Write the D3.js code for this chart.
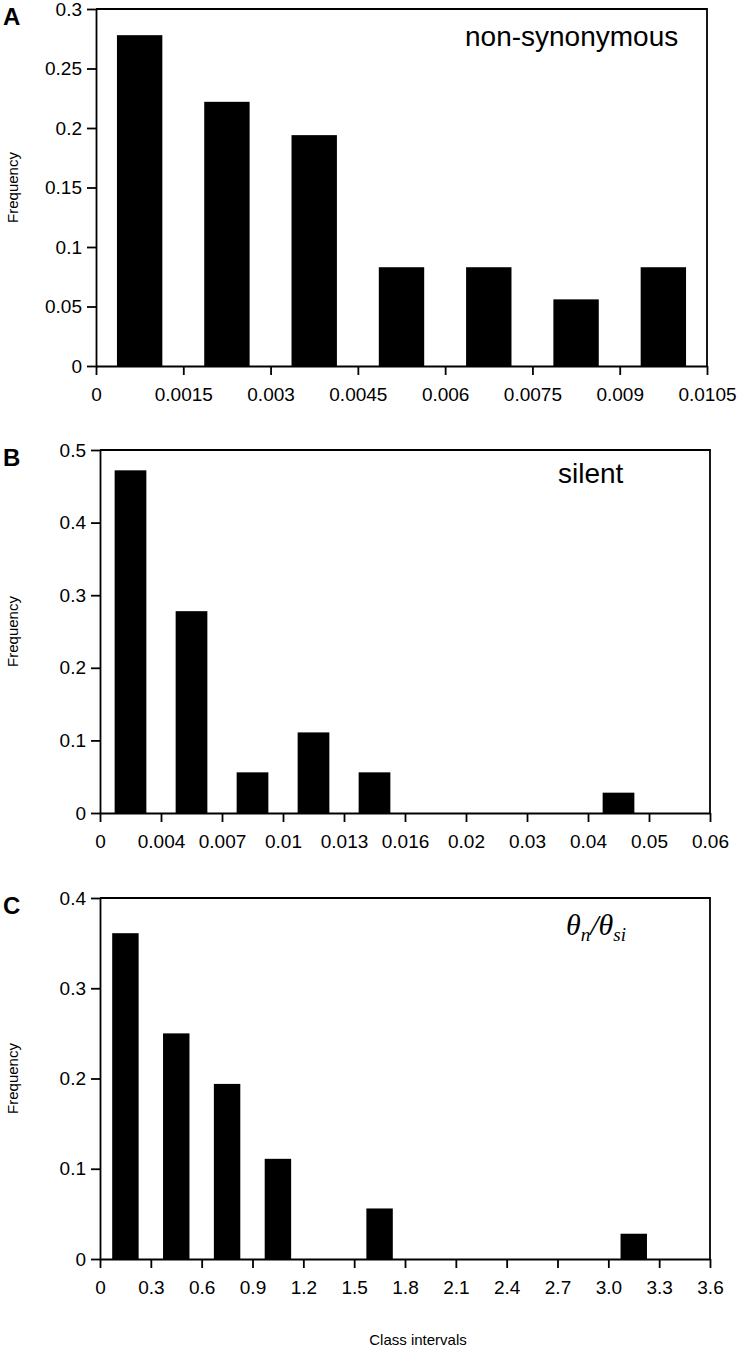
<!DOCTYPE html>
<html><head><meta charset="utf-8">
<script src="https://cdn.jsdelivr.net/npm/d3@7"></script>
<style>body{margin:0;background:#fff}svg{display:block}</style>
</head><body>
<svg id="c" width="738" height="1355"></svg>
<script>
// ---- data ----
const ticksA = ["0","0.0015","0.003","0.0045","0.006","0.0075","0.009","0.0105"];
const valuesA = [0.278,0.222,0.194,0.083,0.083,0.056,0.083];
const yTicksA = [0,0.05,0.1,0.15,0.2,0.25,0.3];

const ticksB = ["0","0.004","0.007","0.01","0.013","0.016","0.02","0.03","0.04","0.05","0.06"];
const valuesB = [0.472,0.278,0.056,0.111,0.056,0,0,0,0.028,0];
const yTicksB = [0,0.1,0.2,0.3,0.4,0.5];

const ticksC = ["0","0.3","0.6","0.9","1.2","1.5","1.8","2.1","2.4","2.7","3.0","3.3","3.6"];
const valuesC = [0.361,0.25,0.194,0.111,0,0.056,0,0,0,0,0.028,0];
const yTicksC = [0,0.1,0.2,0.3,0.4];

const svg = d3.select("#c");
const FONT = "'Liberation Sans', Arial, sans-serif";

function panel(opt){
  const {left,right,top,bottom,ticks,values,yTicks,yMax,letter} = opt;
  const n = values.length;
  const g = svg.append("g");
  const xi = d3.scaleLinear().domain([0,n]).range([left,right]);
  const xb = d3.scaleBand().domain(d3.range(n)).range([left,right]).paddingInner(0.48).paddingOuter(0.24);
  const y = d3.scaleLinear().domain([0,yMax]).range([bottom,top]);

  g.selectAll("rect.bar").data(values).join("rect").attr("class","bar")
    .attr("x",(d,i)=>xb(i)).attr("width",xb.bandwidth())
    .attr("y",d=>y(d)).attr("height",d=>bottom-y(d)).attr("fill","#000");

  g.append("path").attr("d",`M${left},${top}H${right}V${bottom}`).attr("fill","none").attr("stroke","#000").attr("stroke-width",1.8);

  const ax = g.append("g").attr("transform",`translate(0,${bottom})`)
    .call(d3.axisBottom(xi).tickValues(d3.range(n+1)).tickFormat(i=>ticks[i]).tickSize(9).tickPadding(13).tickSizeOuter(0));
  const ay = g.append("g").attr("transform",`translate(${left},0)`)
    .call(d3.axisLeft(y).tickValues(yTicks).tickFormat(d=>String(+d.toFixed(2))).tickSize(9).tickPadding(5).tickSizeOuter(0));
  [ax,ay].forEach(a=>{
    a.selectAll("path,line").attr("stroke","#000").attr("stroke-width",1.8);
    a.selectAll("text").attr("fill","#000").style("font-family",FONT).style("font-size","19px");
  });

  g.append("text").attr("x",3).attr("y",top+16).text(letter)
    .style("font-family",FONT).style("font-weight","bold").style("font-size","24px");
  g.append("text").attr("transform",`translate(18,${(top+bottom)/2}) rotate(-90)`)
    .attr("text-anchor","middle").text("Frequency")
    .style("font-family",FONT).style("font-size","15px");
  return g;
}

const gA = panel({left:96,right:707,top:9,bottom:366,ticks:ticksA,values:valuesA,yTicks:yTicksA,yMax:0.3,letter:"A"});
gA.append("text").attr("x",465).attr("y",46).text("non-synonymous")
  .style("font-family",FONT).style("font-size","28px");

const gB = panel({left:100,right:710,top:450,bottom:813,ticks:ticksB,values:valuesB,yTicks:yTicksB,yMax:0.5,letter:"B"});
gB.append("text").attr("x",558).attr("y",483).text("silent")
  .style("font-family",FONT).style("font-size","28px");

const gC = panel({left:100,right:710,top:898,bottom:1259,ticks:ticksC,values:valuesC,yTicks:yTicksC,yMax:0.4,letter:"C"});
const th = gC.append("text").attr("x",566).attr("y",935)
  .style("font-family","'Liberation Serif','Times New Roman',serif").style("font-style","italic").style("font-size","30px");
th.append("tspan").text("θ");
th.append("tspan").attr("dy",6).style("font-size","19px").text("n");
th.append("tspan").attr("dy",-6).text("/θ");
th.append("tspan").attr("dy",6).style("font-size","19px").text("si");

svg.append("text").attr("x",418).attr("y",1345).attr("text-anchor","middle").text("Class intervals")
  .style("font-family",FONT).style("font-size","15px");
</script>
</body></html>
